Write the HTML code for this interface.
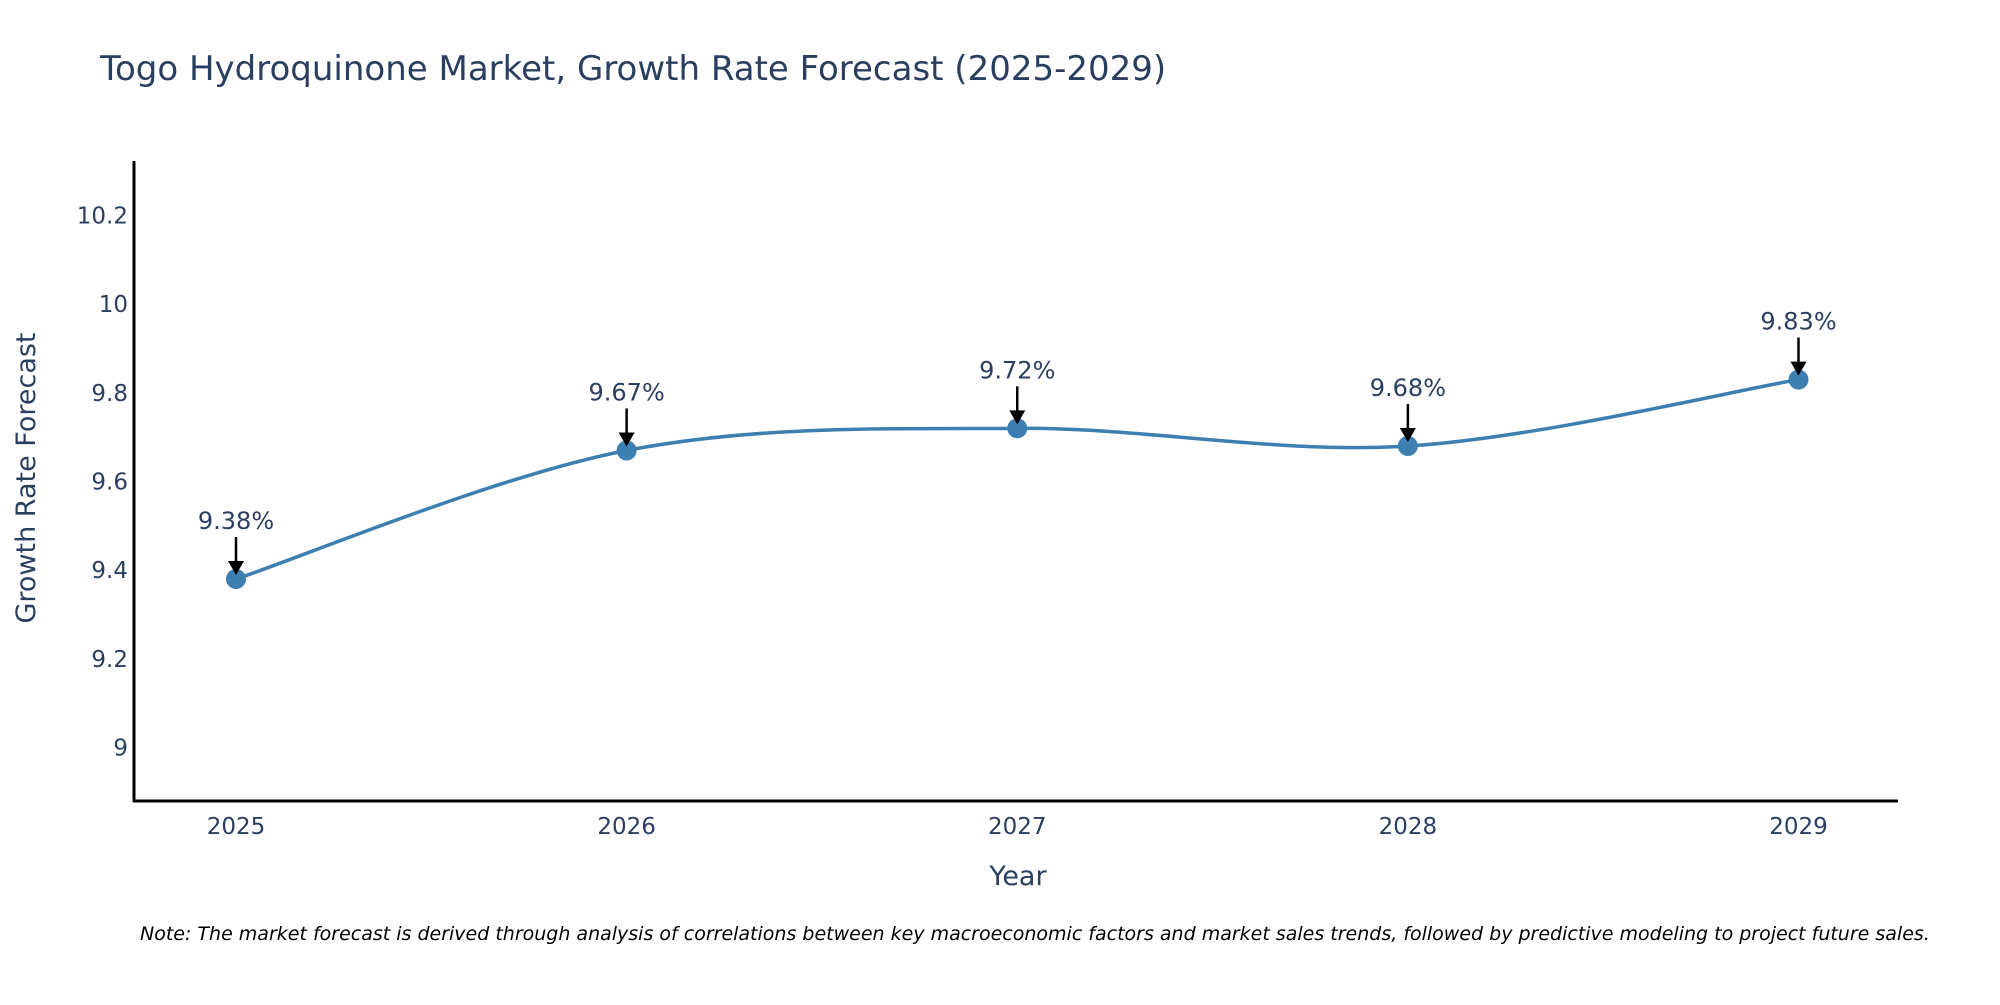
<!DOCTYPE html>
<html><head><meta charset="utf-8"><style>
body{margin:0;background:#fff;}
svg text{font-family:"DejaVu Sans","Liberation Sans",sans-serif;fill:#2a3f5f;}
</style></head><body>
<svg id="chart" width="2000" height="1000" xmlns="http://www.w3.org/2000/svg">
<text x="100" y="80" font-size="34">Togo Hydroquinone Market, Growth Rate Forecast (2025-2029)</text>
<g id="yticks"></g>
<g id="xticks"></g>
<line x1="134" y1="161" x2="134" y2="802" stroke="#000" stroke-width="3"/>
<line x1="133" y1="801" x2="1898" y2="801" stroke="#000" stroke-width="3"/>
<path id="line" fill="none" stroke="#3d7fb0" stroke-width="3.5"/>
<g id="points"></g>
<g id="annots"></g>
<text transform="translate(35,478) rotate(-90)" text-anchor="middle" font-size="27">Growth Rate Forecast</text>
<text x="1018" y="885" text-anchor="middle" font-size="27">Year</text>
<text x="140" y="940" font-size="19" font-style="italic" style="fill:#000">Note: The market forecast is derived through analysis of correlations between key macroeconomic factors and market sales trends, followed by predictive modeling to project future sales.</text>
</svg>
<script>
const years = ["2025","2026","2027","2028","2029"];
const values = [9.38, 9.67, 9.72, 9.68, 9.83];
const yTicks = [9, 9.2, 9.4, 9.6, 9.8, 10, 10.2];
const yTickLabels = ["9","9.2","9.4","9.6","9.8","10","10.2"];

const NS="http://www.w3.org/2000/svg";
function xs(i){return 236 + i*(1798.5-236)/4;}
function ys(v){return 747.4 - (v-9)*(747.4-215.6)/1.2;}
function mk(t,a){const e=document.createElementNS(NS,t);for(const k in a)e.setAttribute(k,a[k]);return e;}
const yt=document.getElementById('yticks');
yTicks.forEach((v,i)=>{const t=mk('text',{x:128,y:ys(v)+8,'text-anchor':'end','font-size':23});


t.textContent=yTickLabels[i];yt.appendChild(t);});
const xt=document.getElementById('xticks');
years.forEach((y,i)=>{const t=mk('text',{x:xs(i),y:834,'text-anchor':'middle','font-size':23});


t.textContent=y;xt.appendChild(t);});
const P=values.map((v,i)=>[xs(i),ys(v)]);
let d=`M${P[0][0]},${P[0][1]}`;
for(let i=0;i<P.length-1;i++){const p0=P[Math.max(i-1,0)],p1=P[i],p2=P[i+1],p3=P[Math.min(i+2,P.length-1)];const k=1/6;
d+=` C${p1[0]+(p2[0]-p0[0])*k},${p1[1]+(p2[1]-p0[1])*k} ${p2[0]-(p3[0]-p1[0])*k},${p2[1]-(p3[1]-p1[1])*k} ${p2[0]},${p2[1]}`;}
document.getElementById('line').setAttribute('d',d);
const pg=document.getElementById('points'),ag=document.getElementById('annots');
P.forEach((p,i)=>{const c=mk('circle',{cx:p[0],cy:p[1],r:10,fill:'#3d7fb0'});


pg.appendChild(c);
const l=mk('line',{x1:p[0],y1:p[1]-42,x2:p[0],y2:p[1]-14,stroke:'#000','stroke-width':2.5});


ag.appendChild(l);
const h=mk('polygon',{points:`${p[0]-8},${p[1]-18} ${p[0]+8},${p[1]-18} ${p[0]},${p[1]-4}`,fill:'#000'});


ag.appendChild(h);
const t=mk('text',{x:p[0],y:p[1]-50,'text-anchor':'middle','font-size':24});


t.textContent=values[i].toFixed(2)+'%';ag.appendChild(t);});
</script>
</body></html>
